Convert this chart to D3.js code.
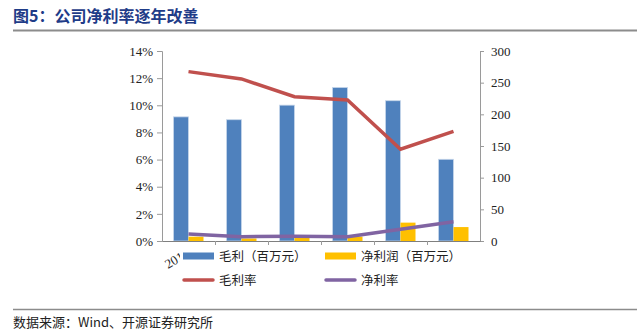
<!DOCTYPE html>
<html><head><meta charset="utf-8">
<script src="https://cdn.jsdelivr.net/npm/d3@7"></script>
<style>body{margin:0;background:#fff}svg{display:block}</style>
</head><body>
<svg id="c" width="644" height="336"></svg>
<script>
const categories = ["2015","2016","2017","2018","2019","2020H1"];
const grossProfit = [196, 191.5, 214.5, 242.5, 221.5, 129];
const netProfit = [6.8, 4, 7, 7, 29, 22];
const grossMargin = [0.1248, 0.1194, 0.1063, 0.1039, 0.0676, 0.0808];
const netMargin = [0.0052, 0.0032, 0.0035, 0.0032, 0.0086, 0.0142];
const leftTicks = [0,0.02,0.04,0.06,0.08,0.10,0.12,0.14];
const rightTicks = [0,50,100,150,200,250,300];
const legendItems = [
  {name:"毛利（百万元）", type:"bar", color:"#4F81BD"},
  {name:"净利润（百万元）", type:"bar", color:"#FFC000"},
  {name:"毛利率", type:"line", color:"#C0504D"},
  {name:"净利率", type:"line", color:"#8064A2"}
];

const svg = d3.select("#c");
const serif = "'Liberation Serif','Times New Roman',serif";
const cjk = "'Noto Sans CJK SC','Noto Sans',sans-serif";

// title
svg.append("text").attr("x",13).attr("y",22).attr("fill","#1F3C88")
  .attr("font-size",16).attr("font-weight","bold").attr("font-family",cjk)
  .text("图5：公司净利率逐年改善");
svg.append("line").attr("x1",13).attr("x2",637).attr("y1",30.5).attr("y2",30.5)
  .attr("stroke","#8c8c8c").attr("stroke-width",2);
svg.append("line").attr("x1",13).attr("x2",637).attr("y1",309.5).attr("y2",309.5)
  .attr("stroke","#8c8c8c").attr("stroke-width",1.5);
svg.append("text").attr("x",13).attr("y",327).attr("fill","#222")
  .attr("font-size",13).attr("font-family",cjk)
  .text("数据来源：Wind、开源证券研究所");

const L = 162, R = 480, T = 51, B = 241;
const x = d3.scaleBand().domain(categories).range([L,R]);
const yL = d3.scaleLinear().domain([0,0.14]).range([B,T]);
const yR = d3.scaleLinear().domain([0,300]).range([B,T]);
const bw = 15;

// x tick labels (mostly hidden by legend, as in the original)
svg.append("clipPath").attr("id","lblclip").append("rect")
  .attr("x",0).attr("y",0).attr("width",180).attr("height",336);
svg.append("g").attr("clip-path","url(#lblclip)")
  .selectAll("text").data(categories).join("text")
  .attr("transform", d => `translate(${x(d)+x.bandwidth()/2+2},${B+15}) rotate(-30)`)
  .attr("text-anchor","end").attr("font-size",13).attr("font-family",serif).attr("fill","#222")
  .text(d => d);

// bars
const g = svg.append("g");
g.selectAll(".gp").data(categories).join("rect")
  .attr("x", d => x(d)+x.bandwidth()/2-bw).attr("width", bw)
  .attr("y", (d,i) => yR(grossProfit[i])).attr("height", (d,i) => B - yR(grossProfit[i]))
  .attr("fill","#4F81BD").attr("stroke","#c6d6ea").attr("stroke-width",0.8);
g.selectAll(".np").data(categories).join("rect")
  .attr("x", d => x(d)+x.bandwidth()/2).attr("width", bw)
  .attr("y", (d,i) => yR(netProfit[i])).attr("height", (d,i) => B - yR(netProfit[i]))
  .attr("fill","#FFC000");

// axes
const axL = svg.append("g").attr("transform",`translate(${L},0)`)
  .call(d3.axisLeft(yL).tickValues(leftTicks).tickFormat(d3.format(".0%")).tickSize(5).tickPadding(4));
const axR = svg.append("g").attr("transform",`translate(${R},0)`)
  .call(d3.axisRight(yR).tickValues(rightTicks).tickSize(4).tickPadding(7));
const axB = svg.append("g").attr("transform",`translate(0,${B})`)
  .call(d3.axisBottom(x).tickValues([]).tickSizeOuter(0));
[axL,axR].forEach(a => {
  a.selectAll("text").attr("font-size",13).attr("font-family",serif).attr("fill","#222");
  a.selectAll("line").attr("stroke","#9a9a9a");
  a.select(".domain").attr("stroke","#9a9a9a");
});
axB.select(".domain").attr("stroke","#7f7f7f").attr("stroke-width",1.2);
svg.append("g").selectAll("line").data(categories.slice(1)).join("line")
  .attr("x1", d => x(d)+0.5).attr("x2", d => x(d)+0.5).attr("y1",B).attr("y2",B+4)
  .attr("stroke","#9a9a9a");

// lines
const line = arr => d3.line().x((d,i) => x(categories[i]) + x.bandwidth()/2).y(d => yL(d))(arr);
svg.append("path").attr("d", line(grossMargin)).attr("fill","none")
  .attr("stroke","#C0504D").attr("stroke-width",3.5);
svg.append("path").attr("d", line(netMargin)).attr("fill","none")
  .attr("stroke","#8064A2").attr("stroke-width",3.5);

// legend entries
const lg2 = svg.append("g");
const pos = [[183,256],[325,256],[183,280],[325,280]];
legendItems.forEach((it,i) => {
  const [px,py] = pos[i];
  if (it.type === "bar") {
    lg2.append("rect").attr("x",px).attr("y",py-3.5).attr("width",31).attr("height",7).attr("fill",it.color);
  } else {
    lg2.append("line").attr("x1",px+1).attr("x2",px+30).attr("y1",py).attr("y2",py)
      .attr("stroke",it.color).attr("stroke-width",3.5).attr("stroke-linecap","round");
  }
  lg2.append("text").attr("x",px+36).attr("y",py+4.5).attr("font-size",12.5)
    .attr("font-family",cjk).attr("fill","#222").text(it.name);
});
</script>
</body></html>
